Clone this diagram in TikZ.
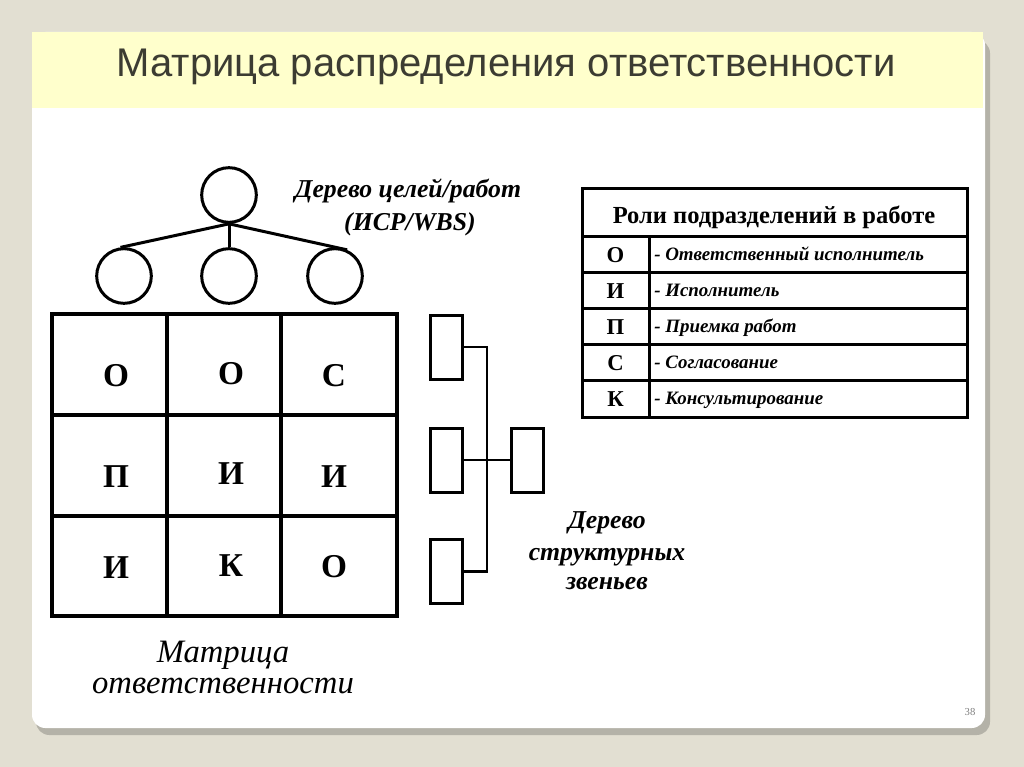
\documentclass[tikz,border=0pt]{standalone}
\usepackage{fontspec}
\setmainfont{Liberation Serif}
\newfontfamily\arialf{Liberation Sans}
\definecolor{bgc}{HTML}{E2DFD2}
\definecolor{hdr}{HTML}{FFFFCC}
\definecolor{ttl}{HTML}{3C3C32}
\definecolor{shd}{HTML}{B4B2A8}
\begin{document}
\begin{tikzpicture}[x=0.75pt,y=-0.75pt,
  circ/.style={circle,draw,line width=2.25pt,minimum size=41pt,inner sep=0pt},
  tline/.style={line width=2.25pt},
  mline/.style={line width=3pt},
  mletter/.style={font=\fontsize{25}{28}\selectfont\bfseries,inner sep=0pt},
  srect/.style={draw,line width=2.25pt,minimum width=24pt,minimum height=48pt,inner sep=0pt},
  sline/.style={line width=1.9pt},
  bi/.style={font=\fontsize{19.3}{22}\selectfont\bfseries\itshape,inner sep=0pt,anchor=base},
  rletter/.style={font=\fontsize{17}{20}\selectfont\bfseries,inner sep=0pt,anchor=base},
  rtext/.style={font=\fontsize{14.2}{17}\selectfont\bfseries\itshape,anchor=base west,inner sep=0pt},
]
\useasboundingbox (0,0) rectangle (1024,767);
\fill[bgc] (0,0) rectangle (1024,767);
% shadow and card
\fill[shd,rounded corners=10pt] (36,40) rectangle (990,735);
\fill[white,rounded corners=10pt] (32,32) -- (985,32) -- (985,728) -- (32,728) -- cycle;
\fill[hdr] (32,32) rectangle (983,108);
\node[font=\arialf\fontsize{30}{34}\selectfont,text=ttl,anchor=base,inner sep=0pt] (title) at (506,76) {Матрица распределения ответственности};

% goal tree
\node[circ] (t0) at (229,195) {};
\node[circ] (t1) at (124,276) {};
\node[circ] (t2) at (229,276) {};
\node[circ] (t3) at (335,276) {};
\draw[tline] (t0.south) -- (t1.97);
\draw[tline] (t0.south) -- (t2.north);
\draw[tline] (t0.south) -- (t3.65);
\node[bi] (lbl1a) at (408,197) {Дерево целей/работ};
\node[bi] (lbl1b) at (410,230) {(ИСР/WBS)};

% matrix
\draw[mline] (52,314) rectangle (397,616);
\draw[mline] (167,314) -- (167,616);
\draw[mline] (281,314) -- (281,616);
\draw[mline] (52,415) -- (397,415);
\draw[mline] (52,516) -- (397,516);
\node[mletter] (m11) at (116,376) {О};
\node[mletter] (m12) at (231,374) {О};
\node[mletter] (m13) at (334,376) {С};
\node[mletter] (m21) at (116,477) {П};
\node[mletter] (m22) at (231,474) {И};
\node[mletter] (m23) at (334,477) {И};
\node[mletter] (m31) at (116,568) {И};
\node[mletter] (m32) at (231,566) {К};
\node[mletter] (m33) at (334,567) {О};
\node[font=\fontsize{24.5}{28}\selectfont\itshape,anchor=base,inner sep=0pt] (mlbl1) at (223,662) {Матрица};
\node[font=\fontsize{24.5}{28}\selectfont\itshape,anchor=base,inner sep=0pt] (mlbl2) at (223,693) {ответственности};

% structure tree
\node[srect] (s1) at (446.5,347) {};
\node[srect] (s2) at (446.5,460) {};
\node[srect] (s3) at (446.5,571.5) {};
\node[srect] (s4) at (527.5,460) {};
\coordinate (v1) at (487,347);
\coordinate (v3) at (487,571.5);
\draw[sline] (s1.east) -- (v1) -- (v3) -- (s3.east);
\draw[sline] (s2.east) -- (s4.west);
\node[bi] (lbl2a) at (607,528) {Дерево};
\node[bi] (lbl2b) at (607,560) {структурных};
\node[bi] (lbl2c) at (607,589) {звеньев};

% roles table
\draw[tline] (582,188) rectangle (967,417);
\draw[tline] (582,236) -- (967,236);
\foreach \y in {272,308,344,380} \draw[tline] (582,\y) -- (967,\y);
\draw[tline] (649,236) -- (649,417);
\node[font=\fontsize{18.4}{21}\selectfont\bfseries,anchor=base,inner sep=0pt] (thead) at (774,223) {Роли подразделений в работе};
\node[rletter] (r1) at (615.5,262) {О};
\node[rletter] (r2) at (615.5,298) {И};
\node[rletter] (r3) at (615.5,334) {П};
\node[rletter] (r4) at (615.5,370) {С};
\node[rletter] (r5) at (615.5,406) {К};
\node[rtext] (d1) at (654,260) {- Ответственный исполнитель};
\node[rtext] (d2) at (654,296) {- Исполнитель};
\node[rtext] (d3) at (654,332) {- Приемка работ};
\node[rtext] (d4) at (654,368) {- Согласование};
\node[rtext] (d5) at (654,404) {- Консультирование};

\node[font=\fontsize{8}{10}\selectfont,text=gray] (pg) at (970,712) {38};
\end{tikzpicture}
\end{document}
